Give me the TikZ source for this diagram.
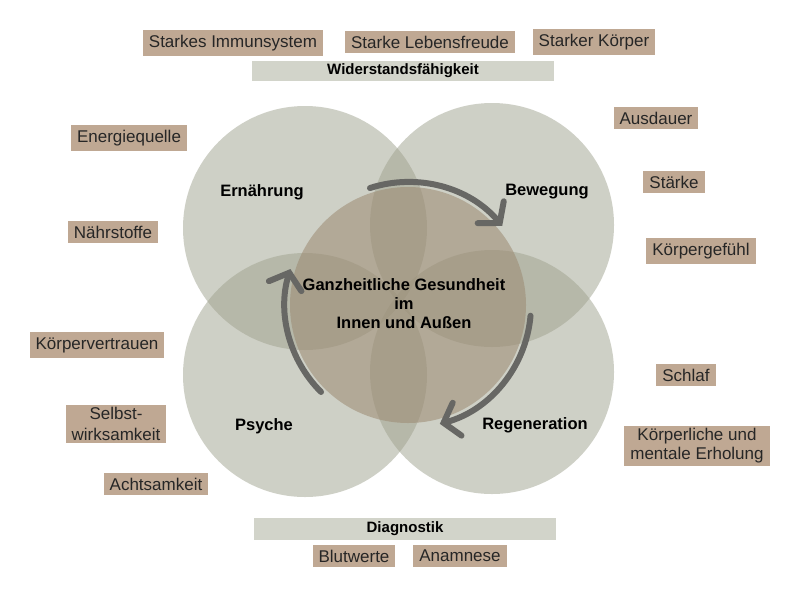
\documentclass[tikz,border=0pt]{standalone}
\usepackage{fontspec}
\setmainfont{Liberation Sans}
\usetikzlibrary{arrows.meta}
\definecolor{tag}{HTML}{BFA893}
\definecolor{bar}{HTML}{D2D4CA}
\definecolor{circ}{HTML}{9FA28E}
\definecolor{mid}{HTML}{9C8A72}
\definecolor{arr}{HTML}{676764}
\begin{document}
\begin{tikzpicture}[x=1pt,y=-1pt,
 tagbox/.style={fill=tag,inner xsep=6pt,inner ysep=5pt,font=\fontsize{17}{19}\selectfont,text=black!85,align=center},
 barbox/.style={fill=bar,minimum height=20pt,font=\bfseries\fontsize{15}{17}\selectfont},
 lab/.style={font=\bfseries\fontsize{16.5}{19}\selectfont,align=center},
 arrw/.style={draw=arr,line width=6pt,line cap=round,-{Straight Barb[length=14pt,width=34pt,line cap=round]}}]
\useasboundingbox (0,0) rectangle (800,600);
\fill[white] (0,0) rectangle (800,600);
\fill[circ,opacity=0.5] (305,228) circle (122);
\fill[circ,opacity=0.5] (492,225) circle (122);
\fill[circ,opacity=0.5] (305,375) circle (122);
\fill[circ,opacity=0.5] (492,372) circle (122);
\fill[mid,opacity=0.55] (408,305) circle (118);
\node[lab] (ern) at (262,192) {Ernährung};
\node[lab] (bew) at (547,192) {Bewegung};
\node[lab] (psy) at (264,426) {Psyche};
\node[lab] (reg) at (535,425) {Regeneration};
\node[lab,inner sep=0pt] (ctr) at (404,304) {Ganzheitliche Gesundheit\\im\\Innen und Außen};
\coordinate (c) at (408,305);
\draw[arrw] ([shift={(-108:123)}]c) arc[start angle=-108,end angle=-40,radius=123];
\draw[arrw] ([shift={(5:123)}]c) arc[start angle=5,end angle=75,radius=123];
\draw[arrw] ([shift={(135:123)}]c) arc[start angle=135,end angle=197,radius=123];
\node[tagbox] (t1) at (233,43) {Starkes Immunsystem};
\node[tagbox] (t2) at (430,42) {Starke Lebensfreude};
\node[tagbox] (t3) at (594,42) {Starker Körper};
\node[barbox,minimum width=302pt] (w) at (403,71) {Widerstandsfähigkeit};
\node[tagbox] (l1) at (129,138) {Energiequelle};
\node[tagbox] (l2) at (113,232) {Nährstoffe};
\node[tagbox] (l3) at (97,345) {Körpervertrauen};
\node[tagbox,inner ysep=2pt,font=\fontsize{17}{21}\selectfont] (l4) at (116,424) {Selbst-\\wirksamkeit};
\node[tagbox] (l5) at (156,484) {Achtsamkeit};
\node[tagbox] (r1) at (656,118) {Ausdauer};
\node[tagbox] (r2) at (674,182) {Stärke};
\node[tagbox] (r3) at (701,251) {Körpergefühl};
\node[tagbox] (r4) at (686,375) {Schlaf};
\node[tagbox,inner ysep=3pt] (r5) at (697,446) {Körperliche und\\mentale Erholung};
\node[barbox,minimum width=302pt,minimum height=22pt] (d) at (405,529) {Diagnostik};
\node[tagbox] (b1) at (354,556) {Blutwerte};
\node[tagbox] (b2) at (460,556) {Anamnese};
\end{tikzpicture}
\end{document}
